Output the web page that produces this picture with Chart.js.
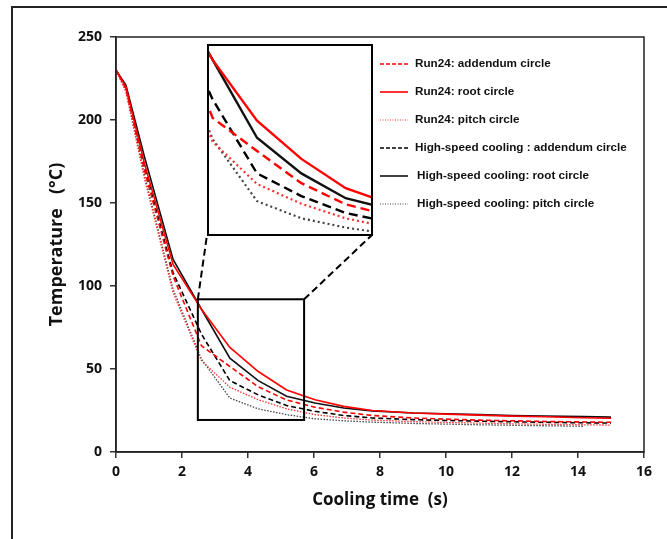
<!DOCTYPE html>
<html>
<head>
<meta charset="utf-8">
<script src="https://cdn.jsdelivr.net/npm/chart.js@4"></script>
<style>
  body { margin: 0; background: #fff; overflow: hidden; }
  #marco { position: absolute; left: 11px; top: 6px; width: 700px; height: 600px;
           border-left: 2px solid #222; border-top: 2px solid #222; pointer-events: none; }
  #grafica { position: absolute; left: 0; top: 0; }
  #zoom { position: absolute; left: 207px; top: 44px; }
</style>
</head>
<body>
<canvas id="grafica" width="667" height="539"></canvas>
<canvas id="zoom" width="166" height="192"></canvas>
<div id="marco"></div>
<script>
// tiempo de enfriamiento (s)
const tiempo = [0, 0.3, 0.86, 1.73, 2.59, 3.45, 4.31, 5.17, 6.03, 6.9, 7.76, 9, 10, 11, 12, 13, 14.15, 15];

// temperaturas (°C)
const run24Addendum = [230, 219, 170, 106, 64, 51.5, 39.3, 31.3, 27, 24, 22, 20.5, 19.8, 19.2, 18.8, 18.4, 18.1, 17.9];
const run24Root = [230, 220, 174, 113, 86, 63, 48.5, 37.4, 31.5, 27.5, 25, 23.5, 22.8, 22.2, 21.6, 21.2, 20.6, 20.3];
const run24Pitch = [230, 217, 165, 96, 55, 39, 31.5, 26, 22.5, 20.5, 19.2, 18.3, 17.8, 17.4, 17, 16.7, 16.4, 16.2];
const hsAddendum = [230, 220, 172, 108, 71, 43, 34.4, 28, 24.5, 22, 20.5, 19.5, 19, 18.6, 18.2, 17.9, 17.6, 17.4];
const hsRoot = [230, 221, 178, 116, 86, 56.5, 43, 33.6, 29.5, 26.5, 24.8, 23.5, 23, 22.5, 22, 21.7, 21.3, 21];
const hsPitch = [230, 218, 167, 98, 56, 32.5, 26, 22.5, 20, 18.8, 18, 17.2, 16.8, 16.4, 16.1, 15.8, 15.5];

const etiquetas = [
  "Run24: addendum circle",
  "Run24: root circle",
  "Run24: pitch circle",
  "High-speed cooling : addendum circle",
  "High-speed cooling: root circle",
  "High-speed cooling: pitch circle"
];
const valores = [run24Addendum, run24Root, run24Pitch, hsAddendum, hsRoot, hsPitch];

// zona ampliada
const zoomX = [2.48, 5.7];
const zoomY = [19.3, 92];

const estilos = [
  { color: "#ff0000", tipo: "dash" },
  { color: "#ff0000", tipo: "solid" },
  { color: "#ff3030", tipo: "dot" },
  { color: "#000000", tipo: "dash" },
  { color: "#111111", tipo: "solid" },
  { color: "#444444", tipo: "dot" }
];

function puntos(arr) {
  return arr.map((v, i) => ({ x: tiempo[i], y: v }));
}

function crearDatasets(grande) {
  return valores.map((arr, i) => {
    const e = estilos[i];
    let dash = [];
    let ancho = grande ? 2.4 : 1.6;
    if (e.tipo === "dash") dash = grande ? [9, 5] : [5, 3];
    if (e.tipo === "dot") { dash = grande ? [2, 3] : [1.5, 1.5]; ancho = grande ? 2.2 : 1.3; }
    return {
      label: etiquetas[i],
      data: puntos(arr),
      borderColor: e.color,
      backgroundColor: e.color,
      borderWidth: ancho,
      borderDash: dash,
      pointRadius: 0,
      tension: 0,
      fill: false
    };
  });
}

const cajaZoom = { left: 207, top: 44, width: 165, height: 191 };

const dibujoExtra = {
  id: "dibujoExtra",
  afterDraw(chart) {
    const { ctx, chartArea, scales } = chart;
    ctx.save();
    ctx.strokeStyle = "#222";
    ctx.lineWidth = 1.5;
    ctx.strokeRect(chartArea.left, chartArea.top, chartArea.width, chartArea.height);

    const x0 = scales.x.getPixelForValue(zoomX[0]);
    const x1 = scales.x.getPixelForValue(zoomX[1]);
    const y0 = scales.y.getPixelForValue(zoomY[1]);
    const y1 = scales.y.getPixelForValue(zoomY[0]);
    ctx.strokeStyle = "#000";
    ctx.lineWidth = 2;
    ctx.strokeRect(x0, y0, x1 - x0, y1 - y0);

    ctx.setLineDash([7, 4]);
    ctx.beginPath();
    ctx.moveTo(x0, y0);
    ctx.lineTo(cajaZoom.left, cajaZoom.top + cajaZoom.height);
    ctx.moveTo(x1, y0);
    ctx.lineTo(cajaZoom.left + cajaZoom.width, cajaZoom.top + cajaZoom.height);
    ctx.stroke();

    // leyenda
    ctx.font = "bold 11.7px 'Liberation Sans', Arial, sans-serif";
    ctx.textBaseline = "middle";
    chart.data.datasets.forEach((ds, i) => {
      const y = 64 + i * 28;
      ctx.strokeStyle = ds.borderColor;
      ctx.lineWidth = estilos[i].tipo === "dot" ? 1.2 : 1.6;
      ctx.setLineDash(estilos[i].tipo === "dash" ? [4, 2] : estilos[i].tipo === "dot" ? [1, 1.5] : []);
      ctx.beginPath();
      ctx.moveTo(380, y);
      ctx.lineTo(408, y);
      ctx.stroke();
      ctx.fillStyle = "#111";
      ctx.fillText(ds.label, i >= 4 ? 417 : 415, y);
    });
    ctx.restore();
  }
};

const fuenteEje = { family: "'Open Sans', sans-serif", weight: "bold", size: 14 };
const fuenteTitulo = { family: "'Open Sans', sans-serif", weight: "bold", size: 17 };

new Chart(document.getElementById("grafica").getContext("2d"), {
  type: "line",
  data: { datasets: crearDatasets(false) },
  options: {
    responsive: false,
    animation: false,
    layout: { padding: { left: 20, top: 37, right: 23, bottom: 20 } },
    plugins: { legend: { display: false }, tooltip: { enabled: false } },
    scales: {
      x: {
        type: "linear",
        min: 0, max: 16,
        ticks: { stepSize: 2, color: "#111", font: fuenteEje, padding: 6 },
        grid: { drawOnChartArea: false, tickLength: 6, color: "#333", lineWidth: 1.5 },
        border: { color: "#222", width: 1.5 },
        title: { display: true, text: "Cooling time  (s)", color: "#111", font: fuenteTitulo, padding: { bottom: 9 } },
        afterFit(s) { s.height = 67; }
      },
      y: {
        min: 0, max: 250,
        ticks: { stepSize: 50, color: "#111", font: fuenteEje, padding: 8 },
        grid: { drawOnChartArea: false, tickLength: 6, color: "#333", lineWidth: 1.5 },
        border: { color: "#222", width: 1.5 },
        title: { display: true, text: "Temperature   (°C)", color: "#111",
                 font: { family: "'Open Sans', sans-serif", weight: "bold", size: 18 }, padding: { top: 26 } },
        afterFit(s) { s.width = 96; }
      }
    }
  },
  plugins: [dibujoExtra]
});

const bordeZoom = {
  id: "bordeZoom",
  afterDraw(chart) {
    const { ctx, chartArea } = chart;
    ctx.save();
    ctx.strokeStyle = "#000";
    ctx.lineWidth = 2;
    ctx.strokeRect(chartArea.left + 1, chartArea.top + 1, chartArea.width - 2, chartArea.height - 2);
    ctx.restore();
  }
};

new Chart(document.getElementById("zoom").getContext("2d"), {
  type: "line",
  data: { datasets: crearDatasets(true) },
  options: {
    responsive: false,
    animation: false,
    layout: { padding: 0 },
    plugins: { legend: { display: false }, tooltip: { enabled: false } },
    scales: {
      x: { type: "linear", display: false, min: zoomX[0], max: zoomX[1] },
      y: { display: false, min: zoomY[0], max: zoomY[1] }
    }
  },
  plugins: [bordeZoom]
});
</script>
</body>
</html>
